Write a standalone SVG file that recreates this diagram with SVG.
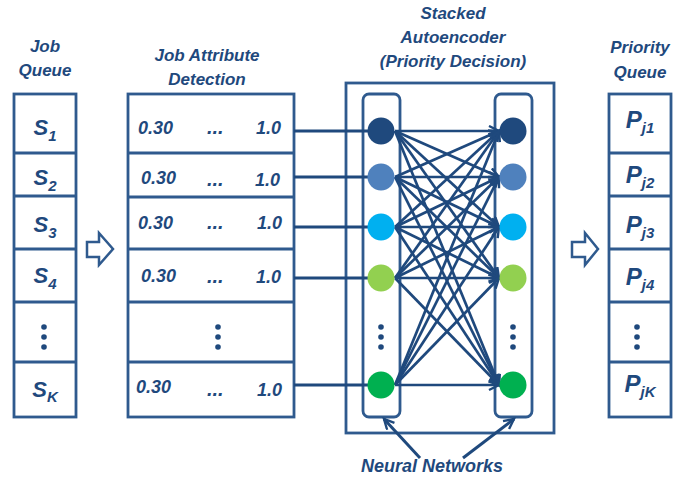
<svg xmlns="http://www.w3.org/2000/svg" width="698" height="482" viewBox="0 0 698 482">
<defs>
<style>
.box{fill:#fff;stroke:#2F5A8E;stroke-width:2.8}
.div{stroke:#2F5A8E;stroke-width:2.8}
.t{font-family:"Liberation Sans",Arial,sans-serif;font-weight:bold;font-style:italic;fill:#1F497D}
.title{font-size:17px;text-anchor:middle}
.s{font-size:22px;text-anchor:middle}
.p{font-size:24px;text-anchor:middle}
.v{font-size:18px}
.e{font-size:20px}
.dot{fill:#1F497D}
.ln{stroke:#1F497D;stroke-width:3;fill:none}
.edge{stroke:#1F497D;stroke-width:2.7;fill:none;marker-end:url(#ah)}
.hollow{fill:#fff;stroke:#2F5A8E;stroke-width:2.5;stroke-linejoin:miter}
</style>
<marker id="ah" markerUnits="userSpaceOnUse" markerWidth="14" markerHeight="14" refX="11" refY="6" orient="auto">
<path d="M1,1 L11,6 L1,11" fill="none" stroke="#1F497D" stroke-width="2.4"/>
</marker>
</defs>
<rect width="698" height="482" fill="#fff"/>

<g id="titles">
<text class="t title" x="45" y="52">Job</text>
<text class="t title" x="45" y="76">Queue</text>
<text class="t title" x="207" y="61">Job Attribute</text>
<text class="t title" x="207" y="85">Detection</text>
<text class="t title" x="453" y="19">Stacked</text>
<text class="t title" x="453" y="43">Autoencoder</text>
<text class="t title" x="453" y="67">(Priority Decision)</text>
<text class="t title" x="640" y="53">Priority</text>
<text class="t title" x="640" y="78">Queue</text>
</g>

<g id="job-queue">
<rect class="box" x="14" y="94" width="62" height="323"/>
<line class="div" x1="14" y1="153" x2="76" y2="153"/>
<line class="div" x1="14" y1="196" x2="76" y2="196"/>
<line class="div" x1="14" y1="249" x2="76" y2="249"/>
<line class="div" x1="14" y1="302" x2="76" y2="302"/>
<line class="div" x1="14" y1="362" x2="76" y2="362"/>
<text class="t s" x="45" y="135">S<tspan font-size="15" dy="6">1</tspan></text>
<text class="t s" x="45" y="185">S<tspan font-size="15" dy="6">2</tspan></text>
<text class="t s" x="45" y="232">S<tspan font-size="15" dy="6">3</tspan></text>
<text class="t s" x="45" y="283">S<tspan font-size="15" dy="6">4</tspan></text>
<circle class="dot" cx="44" cy="327" r="2.8"/>
<circle class="dot" cx="44" cy="337" r="2.8"/>
<circle class="dot" cx="44" cy="347" r="2.8"/>
<text class="t s" x="45" y="397">S<tspan font-size="15" dy="5">K</tspan></text>
</g>

<g id="arrow-left">
<polygon class="hollow" points="87,242 99,242 99,233 113,249 99,265 99,257 87,257"/>
</g>
<g id="arrow-right">
<polygon class="hollow" points="572,242 585,242 585,233 598,249 585,265 585,257 572,257"/>
</g>

<g id="job-attribute">
<rect class="box" x="128" y="94" width="166" height="323"/>
<line class="div" x1="128" y1="153" x2="294" y2="153"/>
<line class="div" x1="128" y1="197" x2="294" y2="197"/>
<line class="div" x1="128" y1="249" x2="294" y2="249"/>
<line class="div" x1="128" y1="302" x2="294" y2="302"/>
<line class="div" x1="128" y1="362" x2="294" y2="362"/>
<text class="t v" x="138" y="134">0.30</text><text class="t e" x="207" y="134">...</text><text class="t v" x="256" y="134">1.0</text>
<text class="t v" x="141" y="184">0.30</text><text class="t e" x="207" y="186">...</text><text class="t v" x="255" y="186">1.0</text>
<text class="t v" x="138" y="229">0.30</text><text class="t e" x="207" y="229">...</text><text class="t v" x="257" y="229">1.0</text>
<text class="t v" x="141" y="282">0.30</text><text class="t e" x="207" y="283">...</text><text class="t v" x="256" y="283">1.0</text>
<circle class="dot" cx="218" cy="327" r="2.8"/>
<circle class="dot" cx="218" cy="337" r="2.8"/>
<circle class="dot" cx="218" cy="347" r="2.8"/>
<text class="t v" x="136" y="393">0.30</text><text class="t e" x="207" y="396">...</text><text class="t v" x="257" y="396">1.0</text>
</g>

<g id="autoencoder">
<rect class="box" x="346" y="83" width="208" height="350"/>
<rect class="box" x="363" y="94" width="37" height="323" rx="6"/>
<rect class="box" x="495" y="94" width="37" height="323" rx="6"/>
<circle class="dot" cx="381" cy="327" r="2.8"/>
<circle class="dot" cx="381" cy="337" r="2.8"/>
<circle class="dot" cx="381" cy="347" r="2.8"/>
<circle class="dot" cx="513" cy="327" r="2.8"/>
<circle class="dot" cx="513" cy="337" r="2.8"/>
<circle class="dot" cx="513" cy="347" r="2.8"/>
</g>

<g id="connectors">
<line class="ln" x1="294" y1="131" x2="375" y2="131"/>
<line class="ln" x1="294" y1="177" x2="375" y2="177"/>
<line class="ln" x1="294" y1="227" x2="375" y2="227"/>
<line class="ln" x1="294" y1="278" x2="375" y2="278"/>
<line class="ln" x1="294" y1="385" x2="375" y2="385"/>

<line class="edge" x1="395" y1="131" x2="499" y2="131"/>
<line class="edge" x1="395" y1="131" x2="499" y2="177"/>
<line class="edge" x1="395" y1="131" x2="499" y2="227"/>
<line class="edge" x1="395" y1="131" x2="499" y2="278"/>
<line class="edge" x1="395" y1="131" x2="499" y2="385"/>

<line class="edge" x1="395" y1="177" x2="499" y2="131"/>
<line class="edge" x1="395" y1="177" x2="499" y2="177"/>
<line class="edge" x1="395" y1="177" x2="499" y2="227"/>
<line class="edge" x1="395" y1="177" x2="499" y2="278"/>
<line class="edge" x1="395" y1="177" x2="499" y2="385"/>

<line class="edge" x1="395" y1="227" x2="499" y2="131"/>
<line class="edge" x1="395" y1="227" x2="499" y2="177"/>
<line class="edge" x1="395" y1="227" x2="499" y2="227"/>
<line class="edge" x1="395" y1="227" x2="499" y2="278"/>
<line class="edge" x1="395" y1="227" x2="499" y2="385"/>

<line class="edge" x1="395" y1="278" x2="499" y2="131"/>
<line class="edge" x1="395" y1="278" x2="499" y2="177"/>
<line class="edge" x1="395" y1="278" x2="499" y2="227"/>
<line class="edge" x1="395" y1="278" x2="499" y2="278"/>
<line class="edge" x1="395" y1="278" x2="499" y2="385"/>

<line class="edge" x1="395" y1="385" x2="499" y2="131"/>
<line class="edge" x1="395" y1="385" x2="499" y2="177"/>
<line class="edge" x1="395" y1="385" x2="499" y2="227"/>
<line class="edge" x1="395" y1="385" x2="499" y2="278"/>
<line class="edge" x1="395" y1="385" x2="499" y2="385"/>

<line class="ln" x1="420" y1="458" x2="384" y2="419" marker-end="url(#ah)"/>
<line class="ln" x1="463" y1="458" x2="514" y2="419" marker-end="url(#ah)"/>
</g>

<g id="input-nodes">
<circle cx="381" cy="131" r="13.5" fill="#1F497D"/>
<circle cx="381" cy="177" r="13.5" fill="#4F81BD"/>
<circle cx="381" cy="227" r="13.5" fill="#00B0F0"/>
<circle cx="381" cy="278" r="13.5" fill="#92D050"/>
<circle cx="381" cy="385" r="13.5" fill="#00B050"/>
</g>
<g id="output-nodes">
<circle cx="513" cy="131" r="13.5" fill="#1F497D"/>
<circle cx="513" cy="177" r="13.5" fill="#4F81BD"/>
<circle cx="513" cy="227" r="13.5" fill="#00B0F0"/>
<circle cx="513" cy="278" r="13.5" fill="#92D050"/>
<circle cx="513" cy="385" r="13.5" fill="#00B050"/>
</g>

<g id="neural-networks-label">
<text class="t" x="432" y="472" font-size="18" text-anchor="middle">Neural Networks</text>
</g>

<g id="priority-queue">
<rect class="box" x="609" y="94" width="62" height="323"/>
<line class="div" x1="609" y1="153" x2="671" y2="153"/>
<line class="div" x1="609" y1="196" x2="671" y2="196"/>
<line class="div" x1="609" y1="249" x2="671" y2="249"/>
<line class="div" x1="609" y1="302" x2="671" y2="302"/>
<line class="div" x1="609" y1="362" x2="671" y2="362"/>
<text class="t p" x="640" y="128">P<tspan font-size="15" dy="5">j1</tspan></text>
<text class="t p" x="640" y="183">P<tspan font-size="15" dy="5">j2</tspan></text>
<text class="t p" x="640" y="233">P<tspan font-size="15" dy="5">j3</tspan></text>
<text class="t p" x="640" y="285">P<tspan font-size="15" dy="5">j4</tspan></text>
<circle class="dot" cx="637" cy="327" r="2.8"/>
<circle class="dot" cx="637" cy="337" r="2.8"/>
<circle class="dot" cx="637" cy="347" r="2.8"/>
<text class="t p" x="640" y="392">P<tspan font-size="15" dy="5">jK</tspan></text>
</g>
</svg>
